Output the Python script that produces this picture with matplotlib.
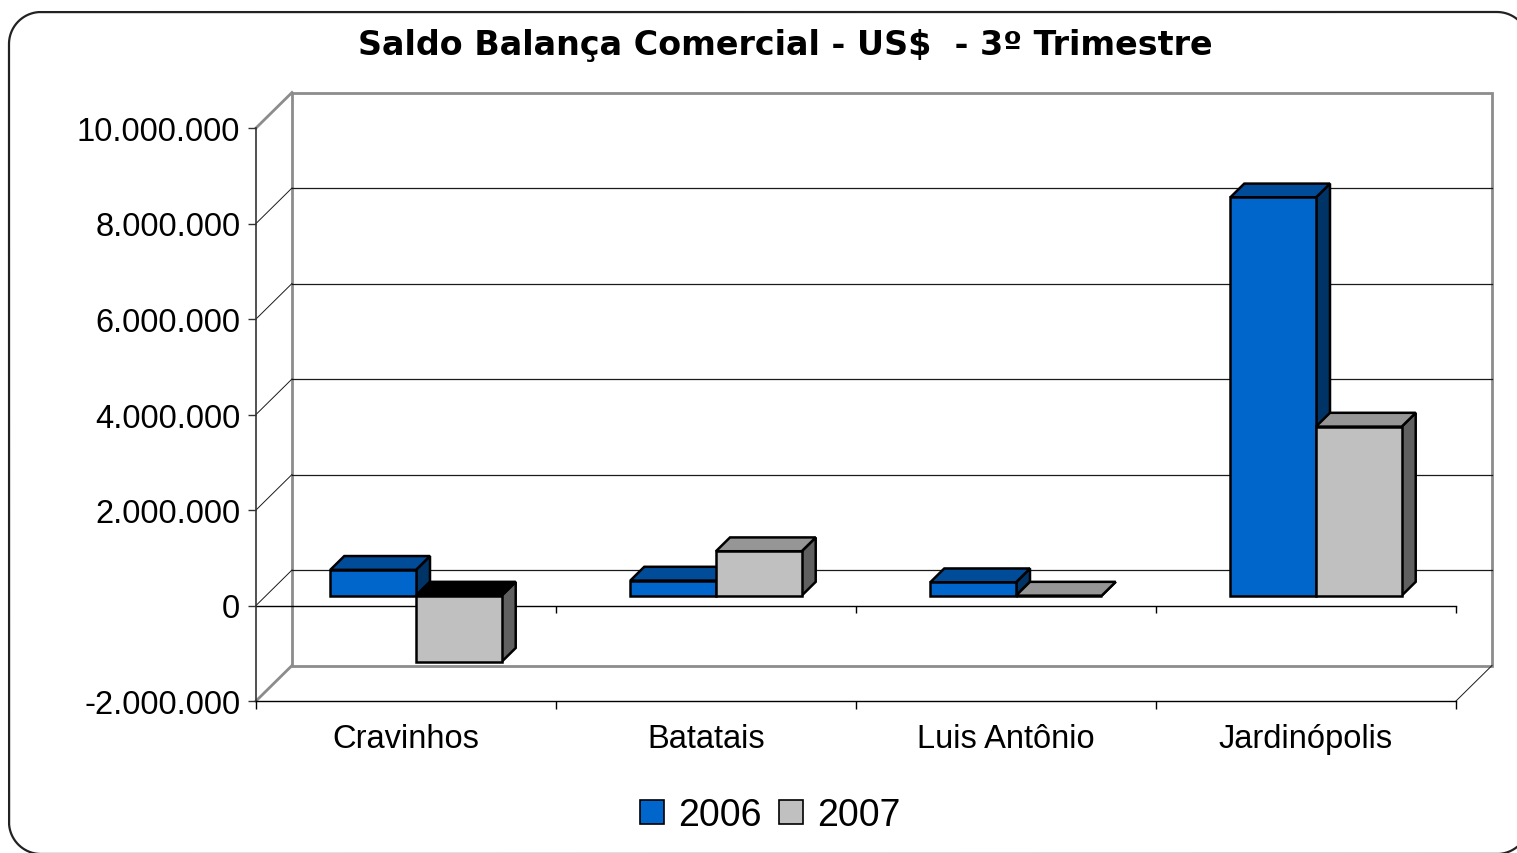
import matplotlib
matplotlib.use('Agg')
import matplotlib.pyplot as plt
import numpy as np
from matplotlib.patches import Polygon, Rectangle, Patch
from matplotlib.transforms import IdentityTransform, ScaledTranslation
from matplotlib.lines import Line2D

# ---------------- data ----------------
title = 'Saldo Balança Comercial - US$  - 3º Trimestre'
categories = ['Cravinhos', 'Batatais', 'Luis Antônio', 'Jardinópolis']
series_names = ['2006', '2007']
values_2006 = [540000, 315000, 280000, 8340000]
values_2007 = [-1385000, 930000, 0, 3540000]
y_ticks = [-2000000, 0, 2000000, 4000000, 6000000, 8000000, 10000000]
y_tick_labels = ['-2.000.000', '0', '2.000.000', '4.000.000', '6.000.000',
                 '8.000.000', '10.000.000']

# ---------------- style ----------------
W, H, DPI = 1517, 854, 100
plt.rcParams['font.family'] = ['Liberation Sans', 'DejaVu Sans']
front_cols = ['#0066CC', '#C0C0C0']
top_cols = ['#004C99', '#969696']
side_cols = ['#003366', '#606060']
neg_top_col = '#000000'
WALL_D = 36          # depth of back wall (pixels, horizontal)
DY_RATIO = 35.5 / 36  # vertical share of depth offset
BAR_D0, BAR_D1 = 10, 24
bar_w = 1 / 3.5

fig = plt.figure(figsize=(W / DPI, H / DPI), dpi=DPI)
ax = fig.add_axes([256 / W, 1 - 702 / H, 1200 / W, 573 / H])
ax.set_xlim(0, len(categories))
ax.set_ylim(y_ticks[0], y_ticks[-1])
ax.patch.set_visible(False)
for s in ['top', 'right']:
    ax.spines[s].set_visible(False)
ax.spines['left'].set_color('#333333')
ax.spines['left'].set_linewidth(1.2)
ax.spines['bottom'].set_color('black')
ax.spines['bottom'].set_linewidth(1.0)


def depth(d):
    return ax.transData + ScaledTranslation(d / DPI, d * DY_RATIO / DPI,
                                            fig.dpi_scale_trans)


def P(x, y, d):
    return depth(d).transform((x, y))


idt = IdentityTransform()

# back wall
ax.add_patch(Rectangle((0, y_ticks[0]), len(categories), y_ticks[-1] - y_ticks[0],
                       transform=depth(WALL_D), fill=False, ec='#8c8c8c', lw=2.0,
                       clip_on=False, zorder=1))
for v in y_ticks[1:-1]:
    ax.plot([0, len(categories)], [v, v], transform=depth(WALL_D), color='#1a1a1a',
            lw=0.9, clip_on=False, zorder=1)


# connecting diagonals on the side wall
def diag(x, y, color, lw):
    a = P(x, y, 0)
    b = P(x, y, WALL_D)
    ax.add_artist(Line2D([a[0], b[0]], [a[1], b[1]], transform=idt, color=color,
                         lw=lw, clip_on=False, zorder=1))


diag(0, y_ticks[-1], '#8c8c8c', 2.0)
diag(0, y_ticks[0], '#8c8c8c', 2.0)
for v in y_ticks[1:-1]:
    diag(0, v, '#1a1a1a', 0.7)
diag(len(categories), y_ticks[0], '#1a1a1a', 0.7)

# front zero line with ticks
ax.plot([0, len(categories)], [0, 0], color='black', lw=1.0, clip_on=False, zorder=2)
ax.plot(np.arange(1, len(categories) + 1), [0] * len(categories), ls='none',
        marker=3, ms=5, mew=1.0, color='black', clip_on=False, zorder=2)

# bars
z = 3
for i in range(len(categories)):
    for j, vals in enumerate([values_2006, values_2007]):
        v = vals[i]
        x0 = i + 0.5 - bar_w + j * bar_w
        x1 = x0 + bar_w
        yt, yb = max(v, 0), min(v, 0)
        side = [P(x1, yb, BAR_D0), P(x1, yb, BAR_D1), P(x1, yt, BAR_D1), P(x1, yt, BAR_D0)]
        top = [P(x0, yt, BAR_D0), P(x1, yt, BAR_D0), P(x1, yt, BAR_D1), P(x0, yt, BAR_D1)]
        front = [P(x0, yb, BAR_D0), P(x1, yb, BAR_D0), P(x1, yt, BAR_D0), P(x0, yt, BAR_D0)]
        tc = neg_top_col if v < 0 else top_cols[j]
        for poly, col in [(side, side_cols[j]), (top, tc), (front, front_cols[j])]:
            ax.add_patch(Polygon(poly, closed=True, transform=idt, fc=col, ec='black',
                                 lw=1.8, joinstyle='miter', clip_on=False, zorder=z))
            z += 0.01
        z += 0.1

# ticks & labels
ax.set_yticks(y_ticks)
ax.set_yticklabels(y_tick_labels)
ax.tick_params(axis='y', length=5.8, width=1.0, pad=5.5, labelsize=23.5, color='#333333')
ax.set_xticks(np.arange(0, len(categories) + 1))
ax.set_xticklabels([])
ax.set_xticks(np.arange(len(categories)) + 0.5, minor=True)
ax.set_xticklabels(categories, minor=True)
ax.tick_params(axis='x', which='major', length=5.8, width=1.0, direction='out')
ax.tick_params(axis='x', which='minor', length=0, pad=15.5, labelsize=23.5)

# title
fig.text(785 / W, 1 - 45 / H, title, ha='center', va='center', fontsize=24,
         fontweight='bold', family=['DejaVu Sans'])

# legend
handles = [Patch(fc=front_cols[k], ec='black', lw=1.2) for k in range(2)]
fig.legend(handles=handles, labels=series_names, loc='center',
           bbox_to_anchor=(770 / W, 1 - 816 / H), ncol=2, frameon=False, fontsize=27,
           handlelength=0.64, handleheight=0.6, handletextpad=0.38,
           columnspacing=0.45, borderpad=0, borderaxespad=0)

# outer rounded frame (open path; its right side lies beyond the canvas)
r = 32
L, T, R, B = 9, 13, 1529, 855
def arc(cx, cy, a0, a1, n=40):
    t = np.linspace(np.radians(a0), np.radians(a1), n)
    return list(cx + r * np.cos(t)), list(H - (cy + r * np.sin(t)))
segs = [(R - r, T + r, -90 + 50, -90), (L + r, T + r, -90, -180),
        (L + r, B - r, 180, 90), (R - r, B - r, 90, 90 - 50)]
xs, ys = [], []
for cx, cy, a0, a1 in segs:
    sx, sy = arc(cx, cy, a0, a1)
    xs += sx
    ys += sy
fig.add_artist(Line2D(xs, ys, transform=idt, color='#222222', lw=1.6, clip_on=False))

fig.savefig('out.png', dpi=DPI)
